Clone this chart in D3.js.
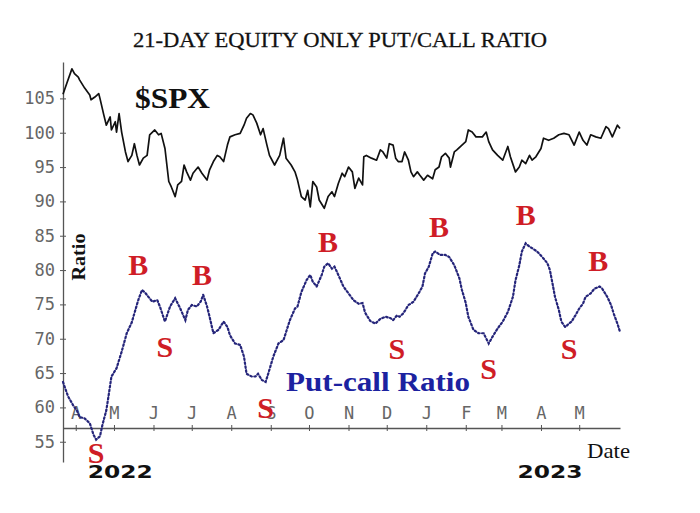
<!DOCTYPE html>
<html>
<head>
<meta charset="utf-8">
<script src="https://cdn.jsdelivr.net/npm/d3@7"></script>
<style>
  body { margin: 0; background: #fff; }
</style>
</head>
<body>
<svg id="chart" width="700" height="513"></svg>
<script>
// values (SPX scaled, put/call ratio x100)
const spxDates = ["2022-03-22","2022-03-25","2022-03-29","2022-03-31","2022-04-03","2022-04-04","2022-04-08","2022-04-12","2022-04-13","2022-04-16","2022-04-19","2022-04-20","2022-04-23","2022-04-25","2022-04-28","2022-04-29","2022-05-02","2022-05-03","2022-05-05","2022-05-07","2022-05-10","2022-05-12","2022-05-15","2022-05-17","2022-05-19","2022-05-21","2022-05-24","2022-05-27","2022-05-29","2022-06-02","2022-06-05","2022-06-07","2022-06-10","2022-06-13","2022-06-15","2022-06-18","2022-06-20","2022-06-23","2022-06-25","2022-06-27","2022-06-30","2022-07-02","2022-07-06","2022-07-09","2022-07-13","2022-07-15","2022-07-18","2022-07-21","2022-07-23","2022-07-26","2022-07-29","2022-07-31","2022-08-04","2022-08-08","2022-08-11","2022-08-13","2022-08-16","2022-08-18","2022-08-21","2022-08-24","2022-08-26","2022-08-29","2022-08-31","2022-09-04","2022-09-08","2022-09-11","2022-09-13","2022-09-17","2022-09-20","2022-09-22","2022-09-25","2022-09-28","2022-09-30","2022-10-02","2022-10-04","2022-10-07","2022-10-09","2022-10-13","2022-10-16","2022-10-19","2022-10-21","2022-10-24","2022-10-27","2022-10-29","2022-11-01","2022-11-04","2022-11-06","2022-11-09","2022-11-12","2022-11-13","2022-11-15","2022-11-19","2022-11-23","2022-11-26","2022-11-28","2022-12-01","2022-12-03","2022-12-06","2022-12-08","2022-12-10","2022-12-13","2022-12-15","2022-12-18","2022-12-20","2022-12-22","2022-12-25","2022-12-27","2022-12-30","2023-01-02","2023-01-06","2023-01-08","2023-01-11","2023-01-13","2023-01-16","2023-01-19","2023-01-20","2023-01-23","2023-01-25","2023-01-29","2023-02-01","2023-02-03","2023-02-06","2023-02-09","2023-02-14","2023-02-17","2023-02-19","2023-02-22","2023-02-26","2023-03-02","2023-03-06","2023-03-08","2023-03-12","2023-03-15","2023-03-17","2023-03-20","2023-03-23","2023-03-25","2023-03-28","2023-04-01","2023-04-03","2023-04-07","2023-04-11","2023-04-15","2023-04-19","2023-04-23","2023-04-27","2023-05-01","2023-05-04","2023-05-07","2023-05-10","2023-05-14","2023-05-18","2023-05-22","2023-05-24","2023-05-27","2023-05-31","2023-06-02"];
const spxValues = [105.6,107.2,109.3,108.6,108.1,107.7,106.5,105.5,104.8,105.2,105.7,105.0,102.6,101.1,102.3,100.4,101.6,100.1,102.8,100.1,97.2,95.8,96.7,98.4,96.7,95.3,96.3,96.7,99.7,100.4,99.7,99.9,97.7,92.9,92.1,90.7,92.4,92.9,95.3,94.3,93.1,94.1,95.0,94.1,93.1,94.6,95.8,96.7,96.5,95.8,98.2,99.4,99.7,99.9,101.1,102.1,102.8,102.6,101.4,99.7,100.6,98.2,96.7,95.3,96.7,99.2,96.3,95.3,94.3,93.1,90.7,90.2,91.6,89.2,92.9,92.1,90.2,89.0,90.7,91.4,90.7,92.6,94.1,93.6,95.0,94.3,91.9,93.4,92.4,96.5,96.7,96.3,96.0,97.5,97.2,96.3,98.4,98.2,96.3,95.8,95.8,97.2,96.0,94.3,93.6,94.3,93.8,93.1,93.8,93.3,94.6,95.0,96.5,97.0,96.3,95.0,97.2,97.5,98.2,98.7,100.4,100.1,99.4,99.4,100.1,98.7,97.5,96.7,96.0,98.0,96.5,94.3,95.0,96.0,95.5,96.7,96.0,96.5,97.7,99.2,98.9,99.2,99.7,99.9,99.7,98.2,100.1,98.9,98.2,99.7,99.4,99.2,100.9,100.6,99.4,101.1,100.6];

const pcDates = ["2022-03-22","2022-03-26","2022-03-30","2022-04-02","2022-04-04","2022-04-08","2022-04-12","2022-04-15","2022-04-17","2022-04-20","2022-04-22","2022-04-25","2022-04-27","2022-04-29","2022-05-03","2022-05-07","2022-05-11","2022-05-15","2022-05-17","2022-05-20","2022-05-23","2022-05-25","2022-05-28","2022-05-31","2022-06-04","2022-06-06","2022-06-10","2022-06-14","2022-06-18","2022-06-22","2022-06-26","2022-06-28","2022-07-01","2022-07-05","2022-07-08","2022-07-10","2022-07-13","2022-07-15","2022-07-18","2022-07-22","2022-07-26","2022-07-29","2022-07-31","2022-08-04","2022-08-08","2022-08-11","2022-08-13","2022-08-17","2022-08-20","2022-08-22","2022-08-25","2022-08-28","2022-08-30","2022-09-03","2022-09-07","2022-09-11","2022-09-16","2022-09-20","2022-09-22","2022-09-25","2022-09-29","2022-10-02","2022-10-04","2022-10-07","2022-10-11","2022-10-13","2022-10-16","2022-10-19","2022-10-21","2022-10-24","2022-10-28","2022-11-01","2022-11-05","2022-11-09","2022-11-12","2022-11-14","2022-11-18","2022-11-22","2022-11-26","2022-11-30","2022-12-04","2022-12-06","2022-12-09","2022-12-11","2022-12-14","2022-12-18","2022-12-22","2022-12-26","2022-12-29","2022-12-31","2023-01-03","2023-01-06","2023-01-08","2023-01-12","2023-01-16","2023-01-19","2023-01-23","2023-01-27","2023-01-29","2023-02-01","2023-02-03","2023-02-07","2023-02-11","2023-02-15","2023-02-19","2023-02-22","2023-02-26","2023-03-02","2023-03-06","2023-03-10","2023-03-12","2023-03-15","2023-03-17","2023-03-20","2023-03-23","2023-03-25","2023-03-29","2023-04-02","2023-04-06","2023-04-08","2023-04-10","2023-04-12","2023-04-15","2023-04-17","2023-04-20","2023-04-23","2023-04-25","2023-04-28","2023-05-01","2023-05-04","2023-05-06","2023-05-10","2023-05-13","2023-05-17","2023-05-19","2023-05-23","2023-05-26","2023-05-28","2023-05-31","2023-06-02"];
const pcValues = [63.7,61.6,60.3,59.5,58.6,58.4,57.7,56.0,55.3,55.8,57.5,59.6,62.0,64.5,65.7,68.1,70.8,72.4,73.7,75.6,77.1,76.8,76.1,75.4,75.6,74.7,72.5,74.7,75.9,74.4,72.7,74.2,74.9,74.7,75.4,76.4,74.7,73.2,70.8,71.3,72.5,71.7,70.5,69.3,69.1,67.4,64.9,64.5,64.5,64.9,64.0,63.7,64.9,67.4,69.3,69.8,72.7,74.4,74.7,76.8,78.5,79.3,78.3,77.6,79.3,80.5,81.0,80.2,80.5,79.3,77.6,76.6,75.6,75.1,75.2,73.8,72.6,72.2,72.9,73.2,73.0,72.7,73.4,73.2,73.7,74.9,75.4,76.6,77.6,79.5,80.5,82.4,82.7,82.2,82.2,81.9,80.7,78.8,77.1,75.2,73.2,71.3,70.8,70.8,69.3,70.3,71.5,72.5,73.9,76.1,78.5,80.7,82.7,83.9,83.4,83.2,82.7,81.9,81.0,80.0,78.1,76.1,74.2,72.5,71.7,72.2,72.5,73.4,74.4,75.1,76.1,76.6,77.3,77.6,77.3,76.1,74.9,73.7,72.2,71.0];

// buy / sell signal annotations: where each letter sits (date, value)
const signalTypes  = ["S","B","S","B","S","B","S","B","S","B","S","B"];
const signalDates  = ["2022-04-17","2022-05-20","2022-06-10","2022-07-09","2022-08-28","2022-10-16","2022-12-09","2023-01-11","2023-02-19","2023-03-20","2023-04-23","2023-05-16"];
const signalValues = [51.9,79.3,67.4,77.8,58.4,82.7,67.1,84.8,64.2,86.5,67.1,79.8];

const yTicks = [55, 60, 65, 70, 75, 80, 85, 90, 95, 100, 105];
const monthLetters = ["J","F","M","A","M","J","J","A","S","O","N","D"];
const yearLabels = ["2022", "2023"];
const yearDates = ["2022-05-06", "2023-04-08"];

const parse = d3.timeParse("%Y-%m-%d");
const spx = spxDates.map((d, i) => ({date: parse(d), value: spxValues[i]}));
const pc = pcDates.map((d, i) => ({date: parse(d), value: pcValues[i]}));

const svg = d3.select("#chart");

const x = d3.scaleTime()
    .domain([parse("2022-03-22"), parse("2023-06-02")])
    .range([63, 620]);
const y = d3.scaleLinear()
    .domain([52.05, 110.3])
    .range([462, 62]);

const serif = "'Liberation Serif', 'Times New Roman', serif";
const mono = "'DejaVu Sans Mono', monospace";

// title
svg.append("text")
    .attr("x", 340).attr("y", 47)
    .attr("text-anchor", "middle")
    .attr("textLength", 414).attr("lengthAdjust", "spacingAndGlyphs")
    .style("font-family", serif).style("font-size", "21px").style("fill", "#111")
    .style("stroke", "#111").style("stroke-width", 0.3)
    .text("21-DAY EQUITY ONLY PUT/CALL RATIO");

// y axis, ticks crossing the line
const gY = svg.append("g")
    .attr("transform", "translate(" + x.range()[0] + ",0)")
    .call(d3.axisLeft(y).tickValues(yTicks).tickSize(3).tickSizeOuter(0).tickPadding(5));
gY.selectAll(".tick line").attr("x1", 3).attr("stroke", "#555");
gY.select(".domain").attr("stroke", "#555").attr("stroke-width", 1.3);
gY.selectAll(".tick text")
    .style("font-family", mono).style("font-size", "17px").style("fill", "#666");

// x axis sits inside the plot, month letters above it
const months = d3.timeMonth.range(parse("2022-04-01"), parse("2023-05-02"));
const gX = svg.append("g")
    .attr("transform", "translate(0," + y(57) + ")")
    .call(d3.axisTop(x).tickValues(months)
        .tickFormat(d => monthLetters[d.getMonth()])
        .tickSize(3).tickSizeOuter(0).tickPadding(6));
gX.selectAll(".tick line").attr("y1", 3).attr("stroke", "#555");
gX.select(".domain").attr("stroke", "#555").attr("stroke-width", 1.3);
gX.selectAll(".tick text")
    .style("font-family", mono).style("font-size", "17px").style("fill", "#666");

// lines
const line = d3.line().x(d => x(d.date)).y(d => y(d.value));

svg.append("path")
    .datum(spx)
    .attr("fill", "none")
    .attr("stroke", "#111")
    .attr("stroke-width", 1.7)
    .attr("stroke-linejoin", "round")
    .attr("d", line);

svg.append("path")
    .datum(pc)
    .attr("fill", "none")
    .attr("stroke", "#25257a")
    .attr("stroke-width", 2.2)
    .attr("stroke-dasharray", "1.6 2.4")
    .attr("stroke-linecap", "round")
    .attr("d", line);

// buy / sell letters
svg.append("g").selectAll("text")
    .data(signalTypes)
    .enter().append("text")
    .attr("x", (d, i) => x(parse(signalDates[i])))
    .attr("y", (d, i) => y(signalValues[i]))
    .attr("text-anchor", "middle")
    .style("font-family", serif).style("font-weight", "bold")
    .style("font-size", "30px").style("fill", "#cf1d26")
    .text(d => d);

// captions
svg.append("text")
    .attr("x", 135).attr("y", 108)
    .attr("textLength", 75).attr("lengthAdjust", "spacingAndGlyphs")
    .style("font-family", serif).style("font-weight", "bold")
    .style("font-size", "29px").style("fill", "#111")
    .text("$SPX");

svg.append("text")
    .attr("transform", "translate(85,257) rotate(-90)")
    .attr("text-anchor", "middle")
    .attr("textLength", 47).attr("lengthAdjust", "spacingAndGlyphs")
    .style("font-family", serif).style("font-weight", "bold")
    .style("font-size", "19px").style("fill", "#111")
    .text("Ratio");

svg.append("text")
    .attr("x", 286).attr("y", 391)
    .attr("textLength", 184).attr("lengthAdjust", "spacingAndGlyphs")
    .style("font-family", serif).style("font-weight", "bold")
    .style("font-size", "28px").style("fill", "#1c22a0")
    .text("Put-call Ratio");

svg.append("text")
    .attr("x", 587).attr("y", 458)
    .attr("textLength", 43).attr("lengthAdjust", "spacingAndGlyphs")
    .style("font-family", serif).style("font-size", "22px").style("fill", "#111")
    .text("Date");

svg.append("g").selectAll("text")
    .data(yearLabels)
    .enter().append("text")
    .attr("x", (d, i) => x(parse(yearDates[i])))
    .attr("y", 478)
    .attr("text-anchor", "middle")
    .attr("textLength", 65).attr("lengthAdjust", "spacingAndGlyphs")
    .style("font-family", "'DejaVu Sans', sans-serif").style("font-weight", "bold")
    .style("font-size", "18px").style("fill", "#111")
    .text(d => d);
</script>
</body>
</html>
